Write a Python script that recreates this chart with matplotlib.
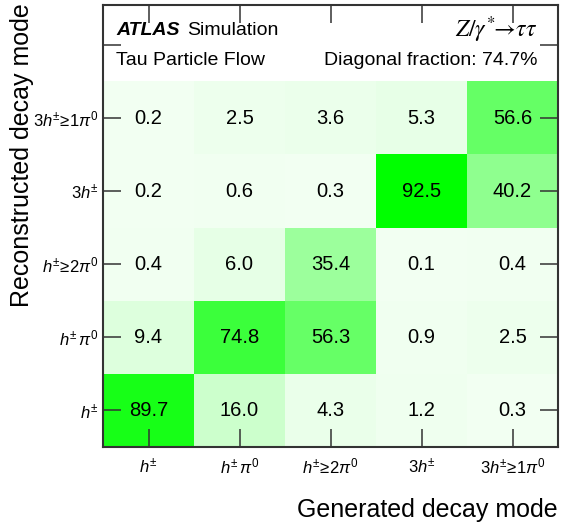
import matplotlib
matplotlib.use('Agg')
import matplotlib.pyplot as plt
import numpy as np
from matplotlib.colors import LinearSegmentedColormap

plt.rcParams['font.family'] = ['Liberation Sans', 'DejaVu Sans']
plt.rcParams['mathtext.fontset'] = 'custom'
plt.rcParams['mathtext.rm'] = 'Liberation Sans'
plt.rcParams['mathtext.it'] = 'Liberation Sans:italic'
plt.rcParams['mathtext.bf'] = 'Liberation Sans:bold'

# decay modes (same order on both axes)
modes = [r'$h^{\pm}$', r'$h^{\pm}\,\pi^{0}$', r'$h^{\pm}\!\geq\!2\pi^{0}$',
         r'$3h^{\pm}$', r'$3h^{\pm}\!\geq\!1\pi^{0}$']

# rows = reconstructed mode (bottom to top), columns = generated mode
row_h = [89.7, 16.0, 4.3, 1.2, 0.3]
row_hpi0 = [9.4, 74.8, 56.3, 0.9, 2.5]
row_h2pi0 = [0.4, 6.0, 35.4, 0.1, 0.4]
row_3h = [0.2, 0.6, 0.3, 92.5, 40.2]
row_3hpi0 = [0.2, 2.5, 3.6, 5.3, 56.6]
matrix = np.array([row_h, row_hpi0, row_h2pi0, row_3h, row_3hpi0])

diag_fraction = 74.7

# white -> green palette, roughly like the ROOT one
nodes = [(0.0, 242), (0.065, 230), (0.173, 204), (0.383, 156), (0.435, 144),
         (0.61, 102), (0.81, 60), (0.97, 26), (1.0, 0)]
cmap = LinearSegmentedColormap.from_list(
    'grn', [(p, (w / 255, 1.0, w / 255)) for p, w in nodes])

fig = plt.figure(figsize=(5.66, 5.26), dpi=100)
ax = fig.add_axes([103 / 566, 1 - 447 / 526, 455 / 566, 442 / 526])

ax.imshow(matrix, cmap=cmap, vmin=0, vmax=matrix.max(), origin='lower',
          extent=(-0.5, 4.5, -0.5, 4.5), aspect='auto', interpolation='nearest')

for i in range(5):
    for j in range(5):
        ax.text(j, i, f'{matrix[i, j]:.1f}', ha='center', va='center', fontsize=14.5)

ax.set_xlim(-0.5, 4.5)
ax.set_ylim(-0.5, 5.55)

ax.set_xticks(range(5))
ax.set_xticklabels(modes, fontsize=12)
ax.set_yticks(range(6))
ax.set_yticklabels(modes + [''], fontsize=12)
ax.tick_params(direction='in', length=13, width=1.1, color='#333333',
               top=True, right=True, pad=3)
ax.tick_params(axis='x', pad=7)
for s in ax.spines.values():
    s.set_linewidth(1.5)
    s.set_color('#333333')

ax.text(0.029, 0.943, 'ATLAS', transform=ax.transAxes, fontsize=14,
        fontweight='bold', fontstyle='italic', va='center', ha='left')
ax.text(0.185, 0.943, 'Simulation', transform=ax.transAxes, fontsize=14,
        va='center', ha='left')
ax.text(0.029, 0.874, 'Tau Particle Flow', transform=ax.transAxes, fontsize=14,
        va='center', ha='left')
ax.text(0.954, 0.874, f'Diagonal fraction: {diag_fraction}%', transform=ax.transAxes,
        fontsize=14, va='center', ha='right')
ax.text(0.954, 0.943, r'$Z/\gamma^{*}\!\!\rightarrow\!\tau\tau$', transform=ax.transAxes,
        fontsize=17, va='center', ha='right', math_fontfamily='stix')

fig.text(558 / 566, 1 - 510 / 526, 'Generated decay mode', ha='right', va='center',
         fontsize=18)
fig.text(22 / 566, 1 - 3 / 526, 'Reconstructed decay mode', ha='center', va='top',
         rotation=90, fontsize=18)

fig.savefig('out.png', dpi=100)
